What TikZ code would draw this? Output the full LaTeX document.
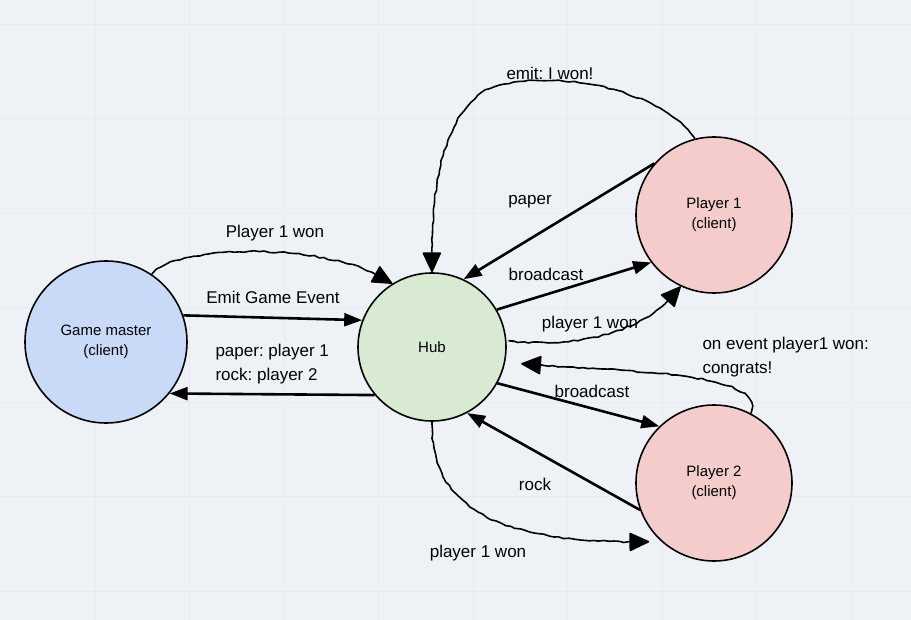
\documentclass[tikz,border=0pt]{standalone}
\usepackage{fontspec}
\setmainfont{Liberation Sans}
\usetikzlibrary{arrows.meta,decorations.pathmorphing}
\definecolor{bgcol}{HTML}{EEF2F6}
\definecolor{gridcol}{HTML}{E8EBF0}
\definecolor{gmblue}{HTML}{C9DAF8}
\definecolor{hubgreen}{HTML}{D9EAD3}
\definecolor{plpink}{HTML}{F4CCCC}
\frenchspacing
\begin{document}
\begin{tikzpicture}[x=1pt,y=-1pt,every node/.style={font=\fontsize{17}{24}\selectfont},
  client/.style={circle,draw,line width=1.6pt,inner sep=0pt,align=center,font=\fontsize{15}{20}\selectfont},
  push/.style={line width=2.6pt,-{Triangle[length=18pt,width=13pt]}},
  sketch/.style={line width=1.6pt,decorate,decoration={random steps,segment length=5pt,amplitude=.8pt,pre length=2pt,post length=24pt},-{Triangle[length=21pt,width=19pt,line join=round]}}]
 \pgfmathsetseed{7}
 \fill[bgcol] (0,0) rectangle (911,620);
 \useasboundingbox (0,0) rectangle (911,620);
 \foreach \k in {1,...,9} \draw[gridcol,line width=.8pt] (94.5*\k+.5,0) -- (94.5*\k+.5,620);
 \foreach \k in {0,...,6} \draw[gridcol,line width=.8pt] (0,94.5*\k+24) -- (911,94.5*\k+24);
 \node[client,fill=gmblue,minimum size=162pt] (gm) at (106,342) {Game master\\(client)};
 \node[client,fill=hubgreen,minimum size=148pt] (hub) at (432,347) {Hub};
 \node[client,fill=plpink,minimum size=156pt] (p1) at (714,215) {Player 1\\(client)};
 \node[client,fill=plpink,minimum size=156pt] (p2) at (714,483) {Player 2\\(client)};
 \draw[push] (gm.19) -- (hub.159);
 \draw[push] (hub.220) -- (gm.321);
 \draw[push] (p1.139) -- (hub.65);
 \draw[push] (hub.30) -- (p1.217);
 \draw[push] (hub.331) -- (p2.134);
 \draw[push] (p2.200) -- (hub.298);
 \draw[sketch] (gm.56) .. controls (175,245) and (330,240) .. (hub.122);
 \draw[sketch] (p1.104) .. controls (660,90) and (560,70) .. (500,85) .. controls (440,100) and (430,200) .. (hub.90);
 \draw[sketch,shorten <=8pt] (hub.5) .. controls (580,350) and (650,330) .. (p1.245);
 \draw[sketch,shorten >=16pt] (p2.62) .. controls (765,370) and (620,372) .. (hub.348);
 \draw[sketch,shorten >=12pt] (hub.270) .. controls (430,520) and (520,545) .. (p2.228);
 \node (lwon) at (275,233) {Player 1 won};
 \node (lemit) at (273,297) {Emit Game Event};
 \node[anchor=west,align=left] (lresult) at (212,364) {paper: player 1\\rock: player 2};
 \node (lwonself) at (550,73) {emit: I won!};
 \node (lpaper) at (530,202) {paper};
 \node (lbcast1) at (546,274) {broadcast};
 \node (lwon1) at (590,324) {player 1 won};
 \node[anchor=west,align=left] (lcongrats) at (699,357) {on event player1 won:\\congrats!};
 \node (lbcast2) at (592,391) {broadcast};
 \node (lrock) at (535,484) {rock};
 \node (lwon2) at (478,553) {player 1 won};
\end{tikzpicture}
\end{document}
